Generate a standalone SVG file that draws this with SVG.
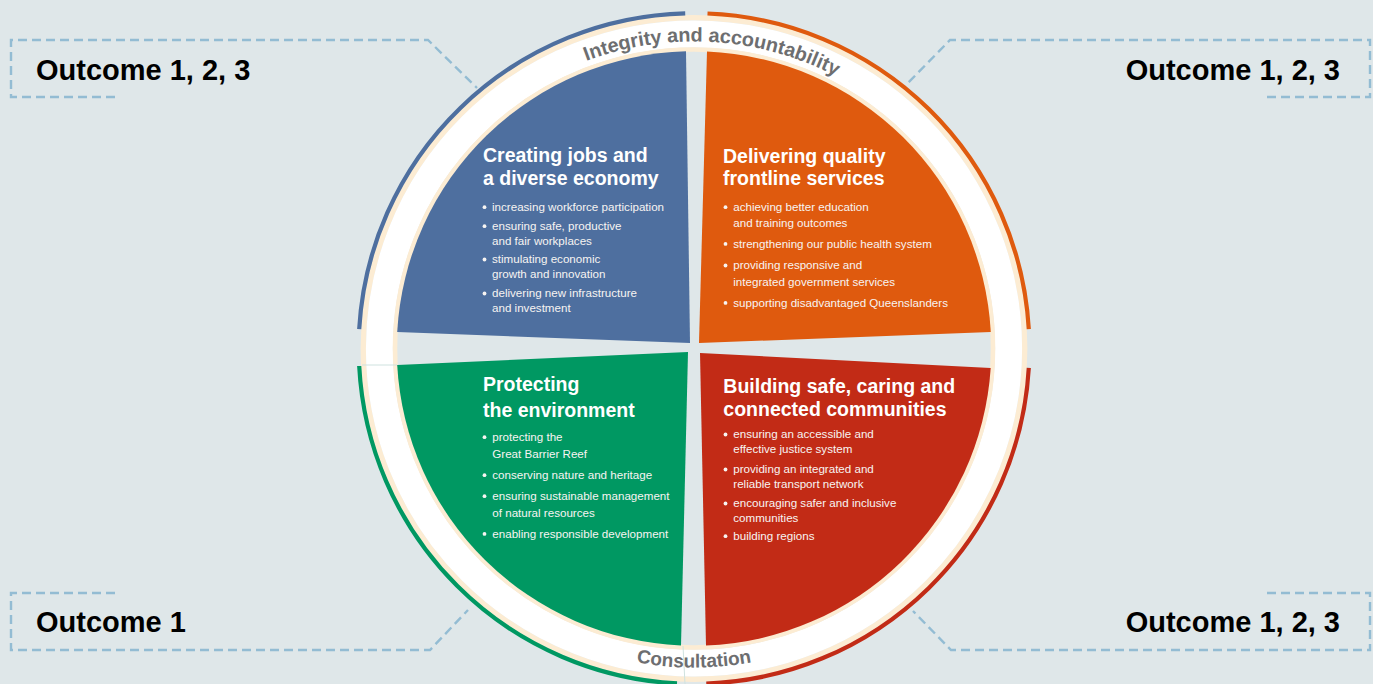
<svg xmlns="http://www.w3.org/2000/svg" width="1373" height="684" viewBox="0 0 1373 684">
<style>
.title{font-family:"Liberation Sans",Arial,sans-serif;font-weight:bold;font-size:19.5px;fill:#ffffff}
.item{font-family:"Liberation Sans",Arial,sans-serif;font-size:11.6px;fill:#f7f4f2}
.dot{fill:#f7f4f2}
.ring{font-family:"Liberation Sans",Arial,sans-serif;font-weight:bold;font-size:19px;fill:#6d6e70}
.ring-top{font-size:19.8px}
.out{font-family:"Liberation Sans",Arial,sans-serif;font-weight:bold;font-size:29px;fill:#000000}
.dash{fill:none;stroke:#93bcd3;stroke-width:2.4;stroke-dasharray:9 5}
.arc{fill:none;stroke-width:4.2}
.seam{stroke:#cfe2df;stroke-width:1}
</style>
<defs>
<path id="topArc" d="M428.1,195 A307,307 0 0 1 959.9,195"/>
<path id="botArc" d="M417.7,508 A319,319 0 0 0 970.3,508"/>
</defs>
<rect x="0" y="0" width="1373" height="684" fill="#dfe7e9"/>

<g id="connectors">
<path class="dash" d="M115,97 L11,97 L11,40 L428,40 L477,88"/>
<path class="dash" d="M1267,97 L1370,97 L1370,40 L950,40 L905,86"/>
<path class="dash" d="M115,593 L11,593 L11,650 L430,650 L468,610"/>
<path class="dash" d="M1267,593 L1370,593 L1370,650 L951,650 L913,611"/>
</g>

<g id="ring">
<circle cx="694" cy="348.5" r="330.7" fill="none" stroke="#fcecd3" stroke-width="5.4"/>
<circle cx="694" cy="348.5" r="314.6" fill="none" stroke="#ffffff" stroke-width="27"/>
<circle cx="694" cy="348.5" r="299" fill="none" stroke="#fcecd3" stroke-width="4.6"/>
<line class="seam" x1="362" y1="365" x2="397" y2="365"/>
<line class="seam" x1="683" y1="646" x2="685" y2="684"/>
<path class="arc" stroke="#4e6f9f" d="M359.2,329.1 A335.3,335.3 0 0 1 685.2,13.3"/>
<path class="arc" stroke="#df5a0e" d="M707.5,13.5 A335.3,335.3 0 0 1 1028.8,329.1"/>
<path class="arc" stroke="#c22b16" d="M1028.8,367.9 A335.3,335.3 0 0 1 706.3,683.6"/>
<path class="arc" stroke="#009862" d="M677,683.4 A335.3,335.3 0 0 1 359.2,366"/>
<text class="ring ring-top"><textPath href="#topArc" startOffset="52.9%" text-anchor="middle">Integrity and accountability</textPath></text>
<text class="ring"><textPath href="#botArc" startOffset="50%" text-anchor="middle">Consultation</textPath></text>
</g>

<g id="q-jobs">
<path fill="#4e6f9f" d="M690,343 L686,51.3 A297.3,297.3 0 0 0 397.2,332 Z"/>
<text class="title" x="483" y="162">Creating jobs and</text>
<text class="title" x="483" y="184.5">a diverse economy</text>
<g class="dot"><circle cx="484.5" cy="207.2" r="1.9"/><circle cx="484.5" cy="226.2" r="1.9"/><circle cx="484.5" cy="259.5" r="1.9"/><circle cx="484.5" cy="293.5" r="1.9"/></g>
<text class="item" x="492" y="211">increasing workforce participation</text>
<text class="item" x="492" y="230">ensuring safe, productive</text>
<text class="item" x="492" y="244.5">and fair workplaces</text>
<text class="item" x="492" y="263.3">stimulating economic</text>
<text class="item" x="492" y="278.3">growth and innovation</text>
<text class="item" x="492" y="297.3">delivering new infrastructure</text>
<text class="item" x="492" y="312.3">and investment</text>
</g>

<g id="q-services">
<path fill="#df5a0e" d="M699,343 L707,51.5 A297.3,297.3 0 0 1 990.8,332 Z"/>
<text class="title" x="723" y="163">Delivering quality</text>
<text class="title" x="723" y="184.5">frontline services</text>
<g class="dot"><circle cx="725.5" cy="207.2" r="1.9"/><circle cx="725.5" cy="243.9" r="1.9"/><circle cx="725.5" cy="265.5" r="1.9"/><circle cx="725.5" cy="302.9" r="1.9"/></g>
<text class="item" x="733.3" y="211">achieving better education</text>
<text class="item" x="733.3" y="226.7">and training outcomes</text>
<text class="item" x="733.3" y="247.7">strengthening our public health system</text>
<text class="item" x="733.3" y="269.3">providing responsive and</text>
<text class="item" x="733.3" y="285.7">integrated government services</text>
<text class="item" x="733.3" y="306.7">supporting disadvantaged Queenslanders</text>
</g>

<g id="q-environment">
<path fill="#009862" d="M688,352 L397.2,365 A297.3,297.3 0 0 0 681,645.5 Z"/>
<text class="title" x="483" y="391">Protecting</text>
<text class="title" x="483" y="416.5">the environment</text>
<g class="dot"><circle cx="484.5" cy="437.2" r="1.9"/><circle cx="484.5" cy="475.2" r="1.9"/><circle cx="484.5" cy="496.2" r="1.9"/><circle cx="484.5" cy="533.9" r="1.9"/></g>
<text class="item" x="492.3" y="441">protecting the</text>
<text class="item" x="492.3" y="457.7">Great Barrier Reef</text>
<text class="item" x="492.3" y="479">conserving nature and heritage</text>
<text class="item" x="492.3" y="500">ensuring sustainable management</text>
<text class="item" x="492.3" y="516.7">of natural resources</text>
<text class="item" x="492.3" y="537.7">enabling responsible development</text>
</g>

<g id="q-communities">
<path fill="#c22b16" d="M700,353 L990.7,368 A297.3,297.3 0 0 1 706,645.6 Z"/>
<text class="title" x="723.3" y="393.3">Building safe, caring and</text>
<text class="title" x="723.3" y="415.5">connected communities</text>
<g class="dot"><circle cx="725.5" cy="434.5" r="1.9"/><circle cx="725.5" cy="469.5" r="1.9"/><circle cx="725.5" cy="503.5" r="1.9"/><circle cx="725.5" cy="536.2" r="1.9"/></g>
<text class="item" x="733.3" y="438.3">ensuring an accessible and</text>
<text class="item" x="733.3" y="453.3">effective justice system</text>
<text class="item" x="733.3" y="473.3">providing an integrated and</text>
<text class="item" x="733.3" y="487.7">reliable transport network</text>
<text class="item" x="733.3" y="507.3">encouraging safer and inclusive</text>
<text class="item" x="733.3" y="521.7">communities</text>
<text class="item" x="733.3" y="540">building regions</text>
</g>

<g id="outcome-top-left"><text class="out" x="36" y="80">Outcome 1, 2, 3</text></g>
<g id="outcome-top-right"><text class="out" x="1340" y="80" text-anchor="end">Outcome 1, 2, 3</text></g>
<g id="outcome-bottom-left"><text class="out" x="36" y="632">Outcome 1</text></g>
<g id="outcome-bottom-right"><text class="out" x="1340" y="632" text-anchor="end">Outcome 1, 2, 3</text></g>
</svg>
